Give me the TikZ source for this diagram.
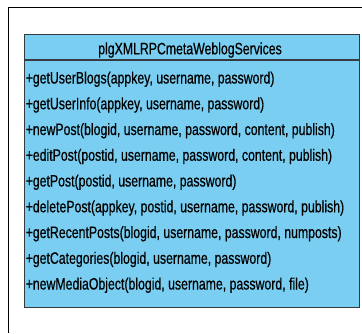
\documentclass[tikz,border=0pt]{standalone}
\usepackage{fontspec}
\setmainfont[FakeStretch=0.745,FakeBold=0.5]{Liberation Sans}
\definecolor{class blue}{RGB}{122,206,242}
\definecolor{edge gray}{RGB}{55,58,62}
\tikzstyle{uml font}=[font=\fontsize{16.5}{20}\selectfont]
\tikzstyle{class box}=[draw=edge gray, line width=1.3pt, fill=class blue, inner sep=0pt, anchor=north west]
\tikzstyle{class name}=[uml font, inner sep=0pt, anchor=base]
\tikzstyle{method}=[uml font, inner sep=0pt, anchor=base west]

\begin{document}
\begin{tikzpicture}[x=1pt,y=-1pt]
    \useasboundingbox (0,0) rectangle (362,333);

    % Frame
    \draw[line width=1.5pt] (362,7.5) -- (8.5,7.5) -- (8.5,333);

    % Class
    \draw (24,34) node[class box, minimum width=335pt, minimum height=273pt] (cls) {};
    \draw (190,54.3) node[class name] (name) {plgXMLRPCmetaWeblogServices};
    \draw[draw=edge gray, line width=1.3pt] (cls.west |- 0,60) -- (cls.east |- 0,60);

    % Operations
    \draw (25.5,83.5) node[method] (m1) {+getUserBlogs(appkey, username, password)};
    \draw (25.5,109.25) node[method] (m2) {+getUserInfo(appkey, username, password)};
    \draw (25.5,135) node[method] (m3) {+newPost(blogid, username, password, content, publish)};
    \draw (25.5,160.75) node[method] (m4) {+editPost(postid, username, password, content, publish)};
    \draw (25.5,186.5) node[method] (m5) {+getPost(postid, username, password)};
    \draw (25.5,212.25) node[method] (m6) {+deletePost(appkey, postid, username, password, publish)};
    \draw (25.5,238) node[method] (m7) {+getRecentPosts(blogid, username, password, numposts)};
    \draw (25.5,263.75) node[method] (m8) {+getCategories(blogid, username, password)};
    \draw (25.5,289.5) node[method] (m9) {+newMediaObject(blogid, username, password, file)};

\end{tikzpicture}
\end{document}
